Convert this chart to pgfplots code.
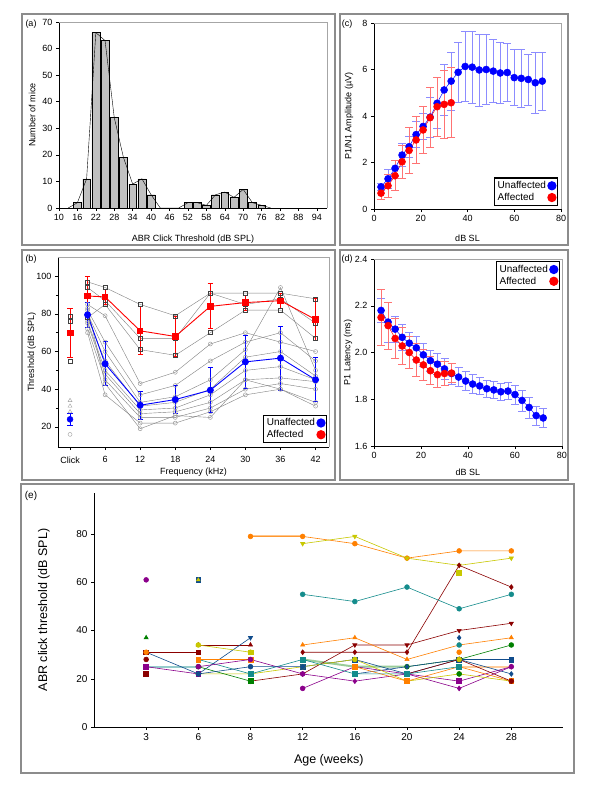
\documentclass[border=0pt]{standalone}
\usepackage{fontspec}
\setmainfont{Liberation Sans}
\usepackage{pgfplots}
\pgfplotsset{compat=1.18}
\definecolor{eorange}{RGB}{255,128,0}
\definecolor{eyellow}{RGB}{200,200,0}
\definecolor{edred}{RGB}{139,0,0}
\definecolor{eteal}{RGB}{20,140,140}
\definecolor{egreen}{RGB}{0,128,0}
\definecolor{epurple}{RGB}{139,0,139}
\definecolor{eblue}{RGB}{16,76,140}
\definecolor{framegray}{RGB}{140,140,140}
\definecolor{bargray}{RGB}{192,192,192}
\pgfplotsset{
 myax/.style={scale only axis, anchor=north west, axis x line*=bottom, axis y line*=left,
   tick align=outside, major tick length=3pt, minor tick length=2pt,
   tick style={black, line width=0.5pt}, axis line style={black, line width=0.6pt},
   ticklabel style={font=\fontsize{9}{10}\selectfont},
   label style={font=\fontsize{9}{10}\selectfont},
   /pgf/number format/assume math mode=true, clip=false,
   xlabel style={anchor=center}, ylabel style={anchor=center}},
 legsty/.style={legend style={draw=black, line width=1.2pt, font=\fontsize{10}{11}\selectfont,
   legend cell align=left, inner sep=1.5pt, row sep=-1pt}, legend plot pos=right},
 uind/.style={gray, line width=0.4pt, mark=o, mark size=2pt, mark options={draw=gray!75, fill=white, line width=0.5pt}},
 aind/.style={gray, line width=0.4pt, mark=square, mark size=2pt, mark options={draw=black!75, fill=white, line width=0.5pt}},
 ebb/.style={error bars/.cd, y dir=both, y explicit, error bar style={#1, line width=0.9pt},
   error mark options={#1, rotate=90, mark size=2.6pt, line width=0.9pt}},
 ebc/.style={error bars/.cd, y dir=both, y explicit, error bar style={#1, line width=0.8pt},
   error mark options={#1, rotate=90, mark size=4pt, line width=0.8pt}},
}
\begin{document}
\begin{tikzpicture}
\useasboundingbox (0pt,0pt) rectangle (600pt,-800pt);
\fill[white] (0pt,0pt) rectangle (600pt,-800pt);
% panel frames
\draw[framegray, line width=1.3pt] (22pt,-14pt) rectangle (335pt,-245pt);
\draw[framegray, line width=1.3pt] (340pt,-14pt) rectangle (568pt,-245pt);
\draw[framegray, line width=1.3pt] (22pt,-250pt) rectangle (335pt,-480pt);
\draw[framegray, line width=1.3pt] (340pt,-250pt) rectangle (568pt,-480pt);
\draw[framegray, line width=1.3pt] (21pt,-484pt) rectangle (574pt,-773pt);

% ---------------- (a)
\begin{axis}[myax, at={(59pt,-22pt)}, width=268pt, height=186pt,
  xmin=10, xmax=97.3, ymin=0, ymax=70,
  xtick={10,16,...,94}, ytick={0,10,...,70},
  xlabel={ABR Click Threshold (dB SPL)}, ylabel={Number of mice},
  xlabel style={at={(axis description cs:0.5,-0.167)}},
  ylabel style={at={(axis description cs:-0.1,0.5)}}]
\addplot[ybar, bar width=2.55, fill=bargray, draw=black, line width=0.4pt] coordinates {
(16,2)(19,11)(22,66)(25,63)(28,34)(31,19)(34,9)(37,11)(40,5)
(52,2)(55,2)(58,1)(61,5)(64,6)(67,4)(70,7)(73,2)(76,1)};
\addplot[black, line width=0.4pt] coordinates {
(13,0)(16,2)(19,11)(22,66)(25,63)(28,34)(31,19)(34,9)(37,11)(40,5)(43,0)(46,0)(49,0)
(52,2)(55,2)(58,1)(61,5)(64,6)(67,4)(70,7)(73,2)(76,1)(79,0)};
\draw[gray!70, line width=0.6pt] (rel axis cs:0,1) -- (rel axis cs:1,1) -- (rel axis cs:1,0);
\end{axis}
\node[font=\fontsize{9}{10}\selectfont] at (31pt,-24pt) {(a)};

% ---------------- (b)
\begin{axis}[myax, legsty, at={(58pt,-257pt)}, width=271pt, height=190pt,
  xmin=-2.06, xmax=44.3, ymin=9.3, ymax=110.2,
  xtick={0,6,12,18,24,30,36,42}, xticklabels={Click,6,12,18,24,30,36,42},
  ytick={20,40,...,100}, minor y tick num=1,
  xticklabel style={yshift=-3pt},
  xlabel={Frequency (kHz)}, ylabel={Threshold (dB SPL)},
  xlabel style={at={(axis description cs:0.5,-0.132)}},
  ylabel style={at={(axis description cs:-0.097,0.5)}},
  legend style={at={(0.993,0.02)}, anchor=south east}]
\addplot[uind, forget plot] coordinates {(3,85)(6,79)(12,43)(18,49)(24,64)(30,70)(36,65)(42,60)};
\addplot[uind, forget plot] coordinates {(3,82)(6,65)(12,37)(18,42)(24,55)(30,65)(36,70)(42,55)};
\addplot[uind, forget plot] coordinates {(3,80)(6,60)(12,33)(18,36)(24,45)(30,61)(36,94)(42,50)};
\addplot[uind, forget plot] coordinates {(3,78)(6,55)(12,31)(18,33)(24,40)(30,57)(36,60)(42,47)};
\addplot[uind, forget plot] coordinates {(3,76)(6,50)(12,29)(18,30)(24,37)(30,50)(36,52)(42,45)};
\addplot[uind, forget plot] coordinates {(3,75)(6,48)(12,27)(18,28)(24,33)(30,45)(36,46)(42,44)};
\addplot[uind, forget plot] coordinates {(3,72)(6,45)(12,25)(18,25)(24,30)(30,40)(36,43)(42,40)};
\addplot[uind, forget plot] coordinates {(3,70)(6,37)(12,22)(18,22)(24,28)(30,37)(36,40)(42,31)};
\addplot[uind, forget plot] coordinates {(3,83)(6,43)(12,19)(18,26)(24,25)(30,45)(36,40)(42,33)};
\addplot[aind, forget plot] coordinates {(3,97)(6,94)(12,85)(18,79)(24,91)(30,91)(36,91)(42,88)};
\addplot[aind, forget plot] coordinates {(3,94)(6,87)(12,67)(18,67)(24,91)(30,85)(36,88)(42,75)};
\addplot[aind, forget plot] coordinates {(3,78)(6,85)(12,61)(18,58)(24,70)(30,82)(36,82)(42,67)};
\addplot[only marks, mark=square, mark size=2pt, mark options={draw=black!75, fill=white}, forget plot] coordinates {(0,55)(0,76)(0,79)};
\addplot[only marks, mark=triangle, mark size=2.3pt, mark options={draw=gray!75, fill=white}, forget plot] coordinates {(0,28)(0,31)(0,34)};
\addplot[only marks, mark=o, mark size=2pt, mark options={draw=gray!75, fill=white}, forget plot] coordinates {(0,16)};
\addplot[red, line width=0.9pt, mark=square*, mark size=2.7pt, forget plot, ebb=red] coordinates {
(3,89.5)+-(0,10.5)(6,89)+-(0,4)(12,71)+-(0,12.7)(18,68)+-(0,10.5)(24,84)+-(0,12)
(30,86)+-(0,4)(36,87)+-(0,4)(42,77)+-(0,11)};
\addplot[red, only marks, mark=square*, mark size=2.7pt, forget plot, ebb=red] coordinates {(0,70)+-(0,13)};
\addplot[blue, line width=0.9pt, mark=*, mark size=3pt, forget plot, ebb=blue] coordinates {
(3,79.5)+-(0,6.5)(6,53.5)+-(0,11.7)(12,31.5)+-(0,7.5)(18,34.5)+-(0,7.3)(24,39.5)+-(0,12)
(30,54.5)+-(0,14.3)(36,56.5)+-(0,17)(42,45)+-(0,11.7)};
\addplot[blue, only marks, mark=*, mark size=3pt, forget plot, ebb=blue] coordinates {(0,24)+-(0,3.3)};
\addlegendimage{only marks, mark=*, blue, mark size=4pt}
\addlegendentry{Unaffected}
\addlegendimage{only marks, mark=*, red, mark size=4pt}
\addlegendentry{Affected}
\draw[gray!70, line width=0.6pt] (rel axis cs:0,1) -- (rel axis cs:1,1) -- (rel axis cs:1,0);
\end{axis}
\node[font=\fontsize{9}{10}\selectfont] at (31pt,-259pt) {(b)};

% ---------------- (c)
\begin{axis}[myax, legsty, at={(374pt,-23pt)}, width=187pt, height=186pt,
  xmin=0, xmax=80, ymin=0, ymax=8, xtick={0,20,...,80}, ytick={0,2,...,8},
  xlabel={dB SL}, ylabel={P1/N1 Amplitude (µV)},
  xlabel style={at={(axis description cs:0.5,-0.156)}},
  ylabel style={at={(axis description cs:-0.134,0.5)}},
  legend style={at={(0.984,0.016)}, anchor=south east}]
\addplot[blue, line width=0.5pt, mark=*, mark size=3.5pt, forget plot, ebc=blue!45] coordinates {
(3,0.95)+-(0,0.15)(6,1.3)+-(0,0.4)(9,1.75)+-(0,0.35)(12,2.32)+-(0,0.5)(15,2.68)+-(0,0.45)
(18,3.2)+-(0,0.55)(21,3.55)+-(0,0.55)(24,3.95)+-(0,0.85)(27,4.55)+-(0,1.1)(30,5.12)+-(0,1.1)
(33,5.5)+-(0,1.25)(36,5.88)+-(0,1.3)(39,6.13)+-(0,1.5)(42,6.1)+-(0,1.55)(45,5.98)+-(0,1.55)
(48,6.0)+-(0,1.5)(51,5.93)+-(0,1.35)(54,5.85)+-(0,1.3)(57,5.87)+-(0,1.25)(60,5.65)+-(0,1.2)
(63,5.62)+-(0,1.23)(66,5.57)+-(0,1.1)(69,5.43)+-(0,1.3)(72,5.5)+-(0,1.25)};
\addplot[red, line width=0.5pt, mark=*, mark size=3.5pt, forget plot, ebc=red!55] coordinates {
(3,0.68)+-(0,0.25)(6,1.0)+-(0,0.5)(9,1.43)+-(0,0.65)(12,2.03)+-(0,0.7)(15,2.52)+-(0,0.97)
(18,2.97)+-(0,1.0)(21,3.4)+-(0,1.02)(24,3.93)+-(0,1.28)(27,4.4)+-(0,1.28)(30,4.5)+-(0,1.47)
(33,4.57)+-(0,1.5)};
\addlegendimage{only marks, mark=*, blue, mark size=4pt}
\addlegendentry{Unaffected}
\addlegendimage{only marks, mark=*, red, mark size=4pt}
\addlegendentry{Affected}
\draw[gray!70, line width=0.6pt] (rel axis cs:0,1) -- (rel axis cs:1,1) -- (rel axis cs:1,0);
\end{axis}
\node[font=\fontsize{9}{10}\selectfont] at (347pt,-24pt) {(c)};

% ---------------- (d)
\begin{axis}[myax, legsty, at={(374pt,-259pt)}, width=188pt, height=187pt,
  xmin=0, xmax=80, ymin=1.6, ymax=2.4, xtick={0,20,...,80}, ytick={1.6,1.8,2.0,2.2,2.4},
  yticklabel style={/pgf/number format/.cd, fixed, fixed zerofill, precision=1},
  xlabel={dB SL}, ylabel={P1 Latency (ms)},
  xlabel style={at={(axis description cs:0.5,-0.139)}},
  ylabel style={at={(axis description cs:-0.138,0.5)}},
  legend style={at={(0.989,0.989)}, anchor=north east}]
\addplot[blue, line width=0.5pt, mark=*, mark size=3.5pt, forget plot, ebc=blue!45] coordinates {
(3,2.18)+-(0,0.05)(6,2.13)+-(0,0.085)(9,2.10)+-(0,0.055)(12,2.065)+-(0,0.055)(15,2.04)+-(0,0.045)
(18,2.02)+-(0,0.05)(21,1.99)+-(0,0.05)(24,1.965)+-(0,0.045)(27,1.95)+-(0,0.045)(30,1.93)+-(0,0.045)
(33,1.91)+-(0,0.045)(36,1.895)+-(0,0.04)(39,1.878)+-(0,0.04)(42,1.865)+-(0,0.04)(45,1.857)+-(0,0.035)
(48,1.845)+-(0,0.035)(51,1.84)+-(0,0.035)(54,1.832)+-(0,0.035)(57,1.835)+-(0,0.035)(60,1.82)+-(0,0.04)
(63,1.795)+-(0,0.045)(66,1.765)+-(0,0.045)(69,1.73)+-(0,0.04)(72,1.72)+-(0,0.04)};
\addplot[red, line width=0.5pt, mark=*, mark size=3.5pt, forget plot, ebc=red!55] coordinates {
(3,2.15)+-(0,0.12)(6,2.115)+-(0,0.1)(9,2.06)+-(0,0.085)(12,2.028)+-(0,0.08)(15,2.0)+-(0,0.07)
(18,1.968)+-(0,0.07)(21,1.947)+-(0,0.065)(24,1.922)+-(0,0.06)(27,1.905)+-(0,0.055)(30,1.91)+-(0,0.05)
(33,1.912)+-(0,0.04)};
\addlegendimage{only marks, mark=*, blue, mark size=4pt}
\addlegendentry{Unaffected}
\addlegendimage{only marks, mark=*, red, mark size=4pt}
\addlegendentry{Affected}
\draw[gray!70, line width=0.6pt] (rel axis cs:0,1) -- (rel axis cs:1,1) -- (rel axis cs:1,0);
\end{axis}
\node[font=\fontsize{9}{10}\selectfont] at (347pt,-259pt) {(d)};

% ---------------- (e)
\begin{axis}[myax, at={(94pt,-493pt)}, width=469.5pt, height=234pt,
  xmin=-1, xmax=8, ymin=0, ymax=97,
  xtick={0,...,7}, xticklabels={3,6,8,12,16,20,24,28}, ytick={0,20,...,80},
  ticklabel style={font=\fontsize{10}{11}\selectfont},
  label style={font=\fontsize{12.5}{14}\selectfont},
  xlabel={Age (weeks)}, ylabel={ABR click threshold (dB SPL)},
  xlabel style={at={(axis description cs:0.5,-0.141)}},
  ylabel style={at={(axis description cs:-0.107,0.5)}},
  every axis plot/.append style={line width=0.6pt, mark size=2.4pt}]
\addplot[eorange!45, line width=2pt] coordinates {(2,79)(3,79)};
\addplot[eteal!45, line width=2pt] coordinates {(0,25)(1,25)};
\addplot[egreen!40, line width=2pt] coordinates {(3,28)(4,25)(5,25)};
\addplot[eorange!40, line width=2pt] coordinates {(6,25)(7,25)};
\addplot[eorange, mark=*] coordinates {(2,79)(3,79)(4,76)(5,70)(6,73)(7,73)};
\addplot[eyellow, mark=triangle*, mark options={rotate=180}] coordinates {(3,76)(4,79)(5,70)(6,67)(7,70)};
\addplot[edred, mark=diamond*] coordinates {(3,31)(4,31)(5,31)(6,67)(7,58)};
\addplot[eyellow, only marks, mark=square*] coordinates {(6,64)};
\addplot[eteal, mark=*] coordinates {(3,55)(4,52)(5,58)(6,49)(7,55)};
\addplot[edred, mark=triangle*, mark options={rotate=180}] coordinates {(2,19)(3,22)(4,34)(5,34)(6,40)(7,43)};
\addplot[eorange, mark=triangle*] coordinates {(3,34)(4,37)(5,28)(6,34)(7,37)};
\addplot[egreen, mark=*] coordinates {(5,25)(6,28)(7,34)};
\addplot[eblue, mark=square*] coordinates {(3,25)(4,28)(5,22)(6,28)(7,28)};
\addplot[eblue, mark=diamond*] coordinates {(4,22)(5,25)(6,28)(7,22)};
\addplot[eblue, only marks, mark=diamond*] coordinates {(6,37)};
\addplot[epurple, mark=*] coordinates {(3,16)(4,25)(5,22)(6,19)(7,25)};
\addplot[epurple, mark=diamond*] coordinates {(3,22)(4,19)(5,22)(6,16)(7,25)};
\addplot[epurple, only marks, mark=square*] coordinates {(6,19)};
\addplot[eyellow, mark=*] coordinates {(1,22)(2,22)(3,25)(4,28)(5,19)(6,22)(7,19)};
\addplot[eorange, mark=square*] coordinates {(4,25)(5,19)(6,25)(7,19)};
\addplot[edred, mark=*] coordinates {(5,22)(6,28)(7,19)};
\addplot[eteal, mark=square*] coordinates {(1,28)(2,22)(3,28)(4,22)(5,22)(6,25)};
\addplot[eteal, only marks, mark=*] coordinates {(6,34)};
\addplot[eorange, only marks, mark=*] coordinates {(6,31)};
\addplot[egreen, only marks, mark=*] coordinates {(6,22)};
\addplot[eyellow, only marks, mark=*] coordinates {(6,28)};
\addplot[epurple, only marks, mark=*] coordinates {(0,61)};
\addplot[eblue, only marks, mark=square*] coordinates {(1,61)};
\addplot[eyellow, only marks, mark=triangle*, mark size=2pt] coordinates {(1,61)};
\addplot[egreen, only marks, mark=triangle*] coordinates {(0,37)};
\addplot[edred, mark=square*] coordinates {(0,31)(1,31)};
\addplot[edred, mark=triangle*] coordinates {(1,34)(2,34)};
\addplot[eblue, mark=triangle*, mark options={rotate=180}] coordinates {(0,31)(1,22)(2,37)};
\addplot[eorange, only marks, mark=*] coordinates {(0,31)};
\addplot[edred, only marks, mark=*] coordinates {(0,28)};
\addplot[edred, only marks, mark=square*] coordinates {(0,22)};
\addplot[epurple, mark=square*] coordinates {(0,25)(1,22)};
\addplot[eyellow, mark=*] coordinates {(1,34)(2,31)};
\addplot[eyellow, only marks, mark=square*] coordinates {(2,31)};
\addplot[eorange, mark=square*] coordinates {(1,28)(2,28)};
\addplot[egreen, mark=*] coordinates {(1,25)(2,19)};
\addplot[egreen, only marks, mark=square*] coordinates {(2,19)};
\addplot[epurple, mark=*] coordinates {(1,25)(2,28)(3,22)};
\addplot[eblue, mark=*] coordinates {(1,22)(2,25)(3,25)};
\addplot[eteal, only marks, mark=triangle*, mark options={rotate=180}] coordinates {(2,22)};
\addplot[eblue, only marks, mark=diamond*] coordinates {(1,22)};
\end{axis}
\node[font=\fontsize{10}{11}\selectfont] at (31pt,-496pt) {(e)};
\end{tikzpicture}
\end{document}
